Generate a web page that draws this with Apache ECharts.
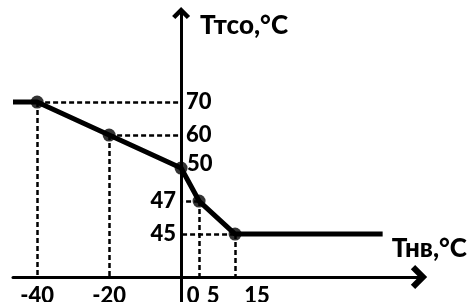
<!DOCTYPE html>
<html>
<head>
<meta charset="utf-8">
<script src="https://cdn.jsdelivr.net/npm/echarts@6/dist/echarts.min.js"></script>
<style>
  html, body { margin: 0; padding: 0; background: #fff; }
  #chart { width: 470px; height: 302px; }
</style>
</head>
<body>
<div id="chart"></div>
<script>
// break points of the heating curve: outdoor temp -> supply temp, °C
const tOutside = [-40, -20, 0, 5, 15]
const tSupply = [70, 60, 50, 47, 45]
// the curve runs flat beyond both end points
const curveX = [-46.7, -40, -20, 0, 5, 15, 56]
const curveY = [70, 70, 60, 50, 47, 45, 45]
const xTicks = [-40, -20, 0, 5, 15]
// supply levels sit on evenly spaced steps (the vertical axis is schematic)
const yLevels = [45, 47, 50, 60, 70]

const xMin = -46.7
const xMax = 66.1
const stepMin = -2.06
const stepMax = 6.7
const xAxisStep = -1.3 // step where the horizontal axis sits

const font = 'Lato'
const ink = '#000'
const chevron = 'path://M5,0L10,5L8.2,6.8L5,3.6L1.8,6.8L0,5Z'

const textStyle = { color: ink, fontFamily: font, fontWeight: 900, fontSize: 22 }
const step = (v) => yLevels.indexOf(v)

// dashed guides from each break point to the axes
const hGuides = []
const vGuides = []
tOutside.forEach((x, i) => {
  if (x === 0) return
  const y = step(tSupply[i])
  hGuides.push([{ coord: [x, y], name: String(tSupply[i]) }, { coord: [0, y] }])
  vGuides.push([{ coord: [x, y], label: { show: false } }, { coord: [x, xAxisStep] }])
})

const chart = echarts.init(document.getElementById('chart'))
chart.setOption({
  animation: false,
  backgroundColor: '#fff',
  grid: { left: 13, right: 51, top: 13, bottom: 0, outerBoundsMode: 'none' },
  xAxis: {
    type: 'value',
    min: xMin,
    max: xMax,
    offset: -25,
    splitLine: { show: false },
    axisTick: { show: false },
    axisLine: {
      onZero: false,
      lineStyle: { color: ink, width: 3 },
      symbol: ['none', chevron],
      symbolSize: [24, 18],
    },
    axisLabel: {
      ...textStyle,
      customValues: xTicks,
      margin: 8,
      // nudge the labels right of the vertical axis like the original
      formatter: (v) => (v === 0 ? '{a|0}' : v === 5 ? '{b|5}' : v === 15 ? '{c|15}' : String(v)),
      rich: {
        a: { ...textStyle, padding: [0, 0, 0, 24] },
        b: { ...textStyle, padding: [0, 0, 0, 28] },
        c: { ...textStyle, padding: [0, 0, 0, 44] },
      },
    },
    name: 'Тнв,°С',
    nameLocation: 'end',
    nameGap: 48,
    nameTextStyle: { ...textStyle, fontSize: 26, align: 'right', verticalAlign: 'bottom', padding: [0, 0, 15, 0] },
  },
  yAxis: {
    type: 'value',
    min: stepMin,
    max: stepMax,
    splitLine: { show: false },
    axisTick: { show: false },
    axisLabel: { show: false },
    axisLine: {
      onZero: true,
      lineStyle: { color: ink, width: 3 },
      symbol: ['none', chevron],
      symbolSize: [18, 14],
    },
    name: 'Ттсо,°С',
    nameLocation: 'end',
    nameGap: -13,
    nameTextStyle: { ...textStyle, fontSize: 26, align: 'left', verticalAlign: 'middle', padding: [0, 0, 0, 19] },
  },
  series: [
    {
      type: 'line',
      data: curveX.map((x, i) => [x, step(curveY[i])]),
      showSymbol: false,
      lineStyle: { color: ink, width: 5 },
      z: 3,
    },
    {
      type: 'scatter',
      data: tOutside.map((x, i) => [x, step(tSupply[i])]),
      symbolSize: 13,
      itemStyle: { color: ink },
      z: 4,
      markLine: {
        silent: true,
        symbol: ['none', 'none'],
        lineStyle: { color: ink, width: 2.5, type: [5, 3] },
        label: { ...textStyle, show: true, position: 'end', formatter: '{b}', distance: 5 },
        data: [...hGuides, ...vGuides],
      },
      markPoint: {
        silent: true,
        symbolSize: 0,
        label: { ...textStyle, show: true, position: 'right', distance: 6, offset: [0, -4], formatter: '{b}' },
        data: [{ coord: [0, step(50)], name: '50' }],
      },
    },
  ],
})
</script>
</body>
</html>
